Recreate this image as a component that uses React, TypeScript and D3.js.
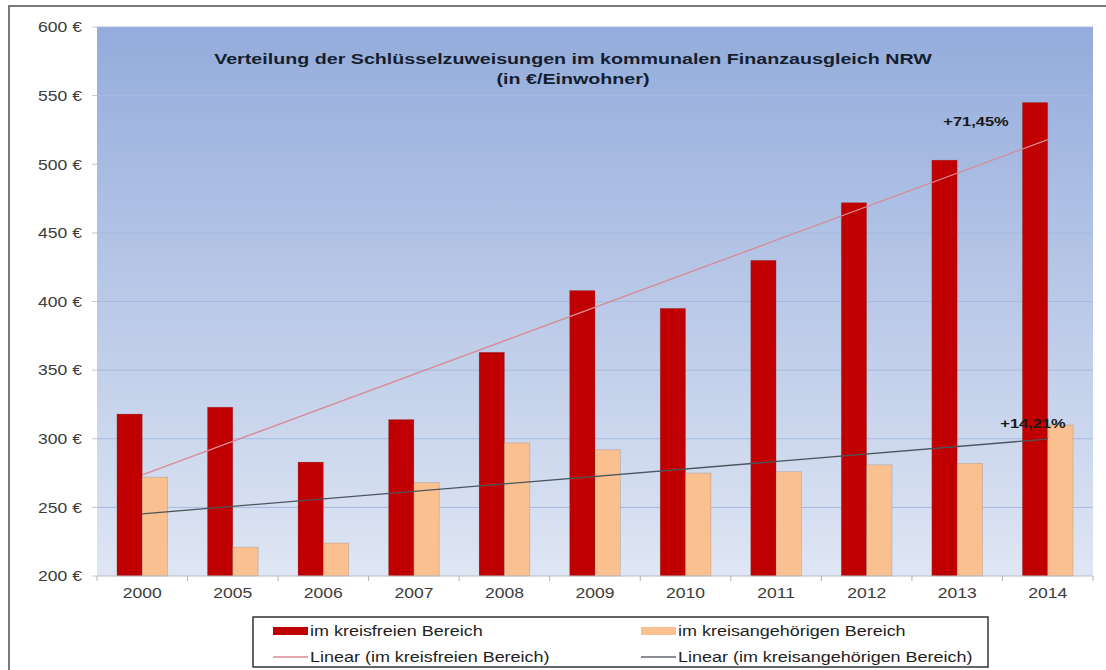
import React, { useEffect, useRef } from 'react'
import * as d3 from 'd3'

const years = ['2000', '2005', '2006', '2007', '2008', '2009', '2010', '2011', '2012', '2013', '2014']
const kreisfrei = [318, 323, 283, 314, 363, 408, 395, 430, 472, 503, 545]
const kreisangehoerig = [272, 221, 224, 268, 297, 292, 275, 276, 281, 282, 310]
const yTicks = [200, 250, 300, 350, 400, 450, 500, 550, 600]
const growthLabels = ['+71,45%', '+14,21%']

const W = 1106
const H = 670
const FONT = '"Liberation Sans", Arial, sans-serif'
const SX = 1.17 // the original image is stretched horizontally

// least squares trend, like Excel's "Linear" trendline
function trend(values: number[]) {
  const xs = values.map((_, i) => i + 1)
  const mx = d3.mean(xs) as number
  const my = d3.mean(values) as number
  const slope = d3.sum(xs, (x, i) => (x - mx) * (values[i] - my)) / d3.sum(xs, x => (x - mx) ** 2)
  return xs.map(x => my + slope * (x - mx))
}

function label(parent: any, x: number, y: number, txt: string, opts: any = {}) {
  const g = parent.append('g').attr('transform', `translate(${x},${y}) scale(${opts.sx || SX},1)`)
  g.append('text')
    .attr('dy', '0.35em')
    .attr('text-anchor', opts.anchor || 'start')
    .attr('font-family', FONT)
    .attr('font-size', opts.size || 15)
    .attr('font-weight', opts.weight || 'normal')
    .attr('fill', opts.fill || '#3c3c3c')
    .text(txt)
  return g
}

function Chart() {
  const ref = useRef<SVGSVGElement>(null)

  useEffect(() => {
    const svg = d3.select(ref.current)
    svg.selectAll('*').remove()

    const left = 97, right = 1093, top = 27, bottom = 576

    const x = d3.scaleBand().domain(years).range([left, right])
    const y = d3.scaleLinear().domain([200, 600]).range([bottom, top])
    const barW = x.bandwidth() * 0.28

    const defs = svg.append('defs')
    const grad = defs.append('linearGradient').attr('id', 'bg').attr('x1', 0).attr('y1', 0).attr('x2', 0).attr('y2', 1)
    grad.append('stop').attr('offset', '0%').attr('stop-color', '#94acdc')
    grad.append('stop').attr('offset', '100%').attr('stop-color', '#dfe6f3')

    // outer frame
    svg.append('rect').attr('width', W).attr('height', H).attr('fill', '#fff')
    svg.append('rect')
      .attr('x', 9).attr('y', 6).attr('width', W + 20).attr('height', H + 20)
      .attr('fill', 'none').attr('stroke', '#7a7a7a').attr('stroke-width', 2)

    // plot area
    svg.append('rect')
      .attr('x', left).attr('y', top).attr('width', right - left).attr('height', bottom - top)
      .attr('fill', 'url(#bg)')

    svg.append('g').selectAll('line').data(yTicks.slice(1)).join('line')
      .attr('x1', left).attr('x2', right)
      .attr('y1', d => y(d)).attr('y2', d => y(d))
      .attr('stroke', '#a6badf').attr('stroke-width', 1)

    // y axis labels + ticks
    const ya = svg.append('g')
    ya.selectAll('line').data(yTicks).join('line')
      .attr('x1', left - 5).attr('x2', left)
      .attr('y1', d => y(d)).attr('y2', d => y(d))
      .attr('stroke', '#c8c8c8')
    yTicks.forEach(t => label(ya, 82, y(t), `${t} €`, { anchor: 'end' }))

    // bars
    const shadow = (g: any) => g.attr('stroke', 'rgba(90,90,90,0.25)').attr('stroke-width', 0.8)
    svg.append('g').selectAll('rect').data(kreisfrei).join('rect')
      .attr('x', (d, i) => (x(years[i]) as number) + x.bandwidth() / 2 - barW)
      .attr('y', d => y(d))
      .attr('width', barW).attr('height', d => bottom - y(d))
      .attr('fill', '#c00000')
      .call(shadow)
    svg.append('g').selectAll('rect').data(kreisangehoerig).join('rect')
      .attr('x', (d, i) => (x(years[i]) as number) + x.bandwidth() / 2)
      .attr('y', d => y(d))
      .attr('width', barW).attr('height', d => bottom - y(d))
      .attr('fill', '#fac08f')
      .call(shadow)

    // x axis
    svg.append('line')
      .attr('x1', left).attr('x2', right).attr('y1', bottom).attr('y2', bottom)
      .attr('stroke', '#b8bcc6')
    const bounds = years.map(d => x(d) as number).concat([right])
    svg.append('g').selectAll('line').data(bounds).join('line')
      .attr('x1', d => d).attr('x2', d => d).attr('y1', bottom).attr('y2', bottom + 5)
      .attr('stroke', '#b0b0b0')
    const xa = svg.append('g')
    years.forEach(yr => label(xa, (x(yr) as number) + x.bandwidth() / 2, 593, yr, { anchor: 'middle' }))

    // trend lines, first to last category centre
    const cx = (i: number) => (x(years[i]) as number) + x.bandwidth() / 2
    const trendPath = (t: number[]) =>
      d3.line<number>().x((d, i) => cx(i === 0 ? 0 : years.length - 1)).y(d => y(d))([t[0], t[t.length - 1]])
    svg.append('path')
      .attr('d', trendPath(trend(kreisfrei)))
      .attr('fill', 'none').attr('stroke', '#d88a95').attr('stroke-width', 1.3)
    svg.append('path')
      .attr('d', trendPath(trend(kreisangehoerig)))
      .attr('fill', 'none').attr('stroke', '#4a5560').attr('stroke-width', 1.3)

    // growth labels
    label(svg, 976, 121, growthLabels[0], { anchor: 'middle', size: 13.5, weight: 'bold', fill: '#1a1a1a', sx: 1.22 })
    label(svg, 1033, 423, growthLabels[1], { anchor: 'middle', size: 13.5, weight: 'bold', fill: '#1a1a1a', sx: 1.22 })

    // title
    const tOpts = { anchor: 'middle', size: 15.5, weight: 'bold', fill: '#141e2e', sx: 1.27 }
    label(svg, 573, 59, 'Verteilung der Schlüsselzuweisungen im kommunalen Finanzausgleich NRW', tOpts)
    label(svg, 573, 79, '(in €/Einwohner)', tOpts)

    // legend
    const lg = svg.append('g')
    lg.append('rect')
      .attr('x', 253).attr('y', 617).attr('width', 735).attr('height', 50)
      .attr('fill', '#fff').attr('stroke', '#333').attr('stroke-width', 1.5)
    const items = [
      { label: 'im kreisfreien Bereich', color: '#c00000', kind: 'bar', x: 273, y: 631 },
      { label: 'im kreisangehörigen Bereich', color: '#fac08f', kind: 'bar', x: 641, y: 631 },
      { label: 'Linear (im kreisfreien Bereich)', color: '#d88a95', kind: 'line', x: 273, y: 657 },
      { label: 'Linear (im kreisangehörigen Bereich)', color: '#606870', kind: 'line', x: 641, y: 657 },
    ]
    items.forEach(it => {
      if (it.kind === 'bar') {
        lg.append('rect').attr('x', it.x).attr('y', it.y - 4).attr('width', 35).attr('height', 8).attr('fill', it.color)
      } else {
        lg.append('line').attr('x1', it.x).attr('x2', it.x + 35).attr('y1', it.y).attr('y2', it.y)
          .attr('stroke', it.color).attr('stroke-width', 1.5)
      }
      label(lg, it.x + 37, it.y, it.label, { size: 15.5, fill: '#1e1e1e', sx: 1.16 })
    })
  }, [])

  return <svg ref={ref} width={W} height={H} style={{ position: 'absolute', left: 0, top: 0 }} />
}

export default function App() {
  return <Chart />
}
